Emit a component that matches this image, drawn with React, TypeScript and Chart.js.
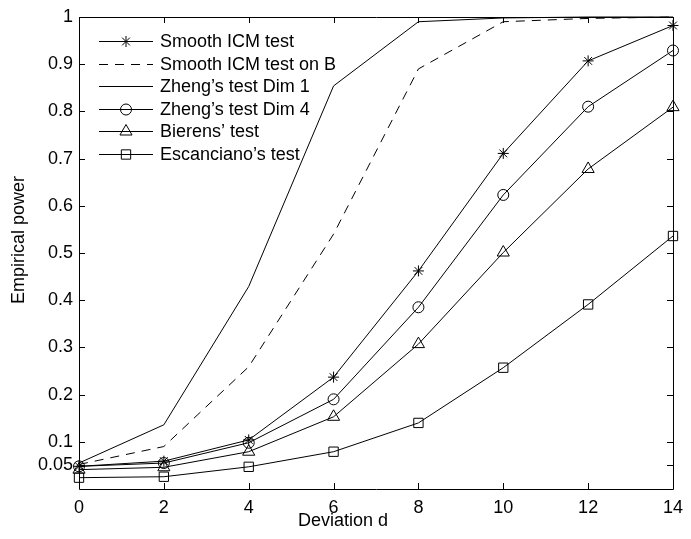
import React, { useEffect, useRef } from 'react';
import { Chart, registerables } from 'chart.js';
import { drawPoint } from 'chart.js/helpers';

Chart.register(...registerables);

const deviations = [0, 2, 4, 6, 8, 10, 12, 14];
const smoothICM = [0.048, 0.059, 0.104, 0.237, 0.462, 0.711, 0.907, 0.982];
const smoothICMonB = [0.052, 0.09, 0.259, 0.54, 0.89, 0.99, 0.997, 1.0];
const zhengDim1 = [0.055, 0.136, 0.429, 0.854, 0.99, 0.998, 1.0, 1.0];
const zhengDim4 = [0.048, 0.055, 0.098, 0.19, 0.385, 0.623, 0.81, 0.929];
const bierens = [0.041, 0.046, 0.079, 0.153, 0.307, 0.501, 0.678, 0.809];
const escanciano = [0.024, 0.026, 0.047, 0.079, 0.14, 0.257, 0.391, 0.536];

const seriesNames = [
  'Smooth ICM test',
  'Smooth ICM test on B',
  'Zheng\u2019s test Dim 1',
  'Zheng\u2019s test Dim 4',
  'Bierens\u2019 test',
  'Escanciano\u2019s test',
];

const xTicks = [0, 2, 4, 6, 8, 10, 12, 14];
const yTicks = [0.05, 0.1, 0.2, 0.3, 0.4, 0.5, 0.6, 0.7, 0.8, 0.9, 1];
const yTickLabels = ['0.05', '0.1', '0.2', '0.3', '0.4', '0.5', '0.6', '0.7', '0.8', '0.9', '1'];
const xTitle = 'Deviation d';
const yTitle = 'Empirical power';

const FONT = '"Liberation Sans", Arial, Helvetica, sans-serif';

const toPoints = (vals: number[]) => deviations.map((d, i) => ({ x: d, y: vals[i] }));

const framePlugin = {
  id: 'frameTicks',
  afterDraw(chart: any) {
    const { ctx, chartArea } = chart;
    const { left, right, top, bottom } = chartArea;
    const xs = chart.scales.x;
    const ys = chart.scales.y;
    ctx.save();
    ctx.strokeStyle = '#000';
    ctx.lineWidth = 1;
    ctx.setLineDash([]);
    ctx.beginPath();
    ctx.rect(left + 0.5, top + 0.5, right - left, bottom - top);
    ctx.stroke();
    const tl = 6;
    ctx.beginPath();
    xTicks.forEach((v) => {
      const px = Math.round(xs.getPixelForValue(v)) + 0.5;
      ctx.moveTo(px, bottom);
      ctx.lineTo(px, bottom - tl);
      ctx.moveTo(px, top);
      ctx.lineTo(px, top + tl);
    });
    yTicks.forEach((v) => {
      const py = Math.round(ys.getPixelForValue(v)) + 0.5;
      ctx.moveTo(left, py);
      ctx.lineTo(left + tl, py);
      ctx.moveTo(right, py);
      ctx.lineTo(right - tl, py);
    });
    ctx.stroke();

    // axis titles
    ctx.fillStyle = '#000';
    ctx.font = `18px ${FONT}`;
    ctx.textAlign = 'center';
    ctx.textBaseline = 'middle';
    ctx.fillText(xTitle, 343, 521);
    ctx.save();
    ctx.translate(19, 240);
    ctx.rotate(-Math.PI / 2);
    ctx.fillText(yTitle, 0, 0);
    ctx.restore();

    // legend
    const lx0 = left + 20;
    const lx1 = left + 74;
    const mx = left + 47;
    const tx = left + 81;
    const y0 = top + 24;
    const dy = 22.5;
    ctx.font = `18px ${FONT}`;
    ctx.textBaseline = 'middle';
    ctx.textAlign = 'left';
    chart.data.datasets.forEach((ds: any, i: number) => {
      const y = Math.round(y0 + dy * i) + 0.5;
      ctx.strokeStyle = '#000';
      ctx.lineWidth = 1;
      ctx.setLineDash(ds.borderDash || []);
      ctx.beginPath();
      ctx.moveTo(lx0, y);
      ctx.lineTo(lx1, y);
      ctx.stroke();
      ctx.setLineDash([]);
      if (ds.pointRadius > 0) {
        ctx.fillStyle = 'rgba(0,0,0,0)';
        ctx.strokeStyle = '#000';
        drawPoint(ctx, { pointStyle: ds.pointStyle, radius: ds.pointRadius, rotation: 0, borderWidth: 1 }, mx, y);
      }
      ctx.fillStyle = '#000';
      ctx.fillText(ds.label, tx, y + 1);
    });
    ctx.restore();
  },
};

function makeDs(label: string, vals: number[], pointStyle: string | false, radius: number, dash: number[] = []) {
  return {
    label,
    data: toPoints(vals),
    borderColor: '#000',
    borderWidth: 1,
    borderDash: dash,
    pointStyle: pointStyle || 'circle',
    pointRadius: radius,
    pointHoverRadius: radius,
    pointBorderColor: '#000',
    pointBackgroundColor: 'rgba(0,0,0,0)',
    pointBorderWidth: 1,
    fill: false,
    tension: 0,
    clip: false,
  };
}

export default function App() {
  const ref = useRef<HTMLCanvasElement | null>(null);
  useEffect(() => {
    if (!ref.current) return;
    const chart = new Chart(ref.current, {
      type: 'line',
      data: {
        datasets: [
          makeDs(seriesNames[0], smoothICM, 'star', 5.5),
          makeDs(seriesNames[1], smoothICMonB, false, 0, [9, 7]),
          makeDs(seriesNames[2], zhengDim1, false, 0),
          makeDs(seriesNames[3], zhengDim4, 'circle', 5.5),
          makeDs(seriesNames[4], bierens, 'triangle', 7),
          makeDs(seriesNames[5], escanciano, 'rect', 6.6),
        ] as any,
      },
      options: {
        animation: false,
        responsive: false,
        maintainAspectRatio: false,
        devicePixelRatio: 1,
        layout: { padding: { top: 17, right: 12, left: 0, bottom: 0 } },
        plugins: {
          legend: { display: false },
          tooltip: { enabled: false },
        },
        scales: {
          x: {
            type: 'linear',
            min: 0,
            max: 14,
            grid: { display: false, drawTicks: false },
            border: { display: false },
            afterBuildTicks: (s: any) => {
              s.ticks = xTicks.map((v) => ({ value: v }));
            },
            afterFit: (s: any) => {
              s.height = 50;
            },
            ticks: {
              autoSkip: false,
              maxRotation: 0,
              padding: 8,
              color: '#000',
              font: { family: FONT, size: 18 },
              callback: (v: any) => String(v),
            },
            title: { display: false },
          },
          y: {
            type: 'linear',
            min: 0,
            max: 1,
            grid: { display: false, drawTicks: false },
            border: { display: false },
            afterBuildTicks: (s: any) => {
              s.ticks = yTicks.map((v) => ({ value: v }));
            },
            afterFit: (s: any) => {
              s.width = 79;
            },
            ticks: {
              autoSkip: false,
              padding: 6,
              color: '#000',
              font: { family: FONT, size: 18 },
              callback: (_v: any, i: number) => yTickLabels[i],
            },
            title: { display: false },
          },
        },
      },
      plugins: [framePlugin],
    });
    return () => chart.destroy();
  }, []);
  return (
    <div style={{ position: 'fixed', left: 0, top: 0, width: 691, height: 539, background: '#fff' }}>
      <canvas ref={ref} width={691} height={539} style={{ width: 691, height: 539, display: 'block' }} />
    </div>
  );
}
